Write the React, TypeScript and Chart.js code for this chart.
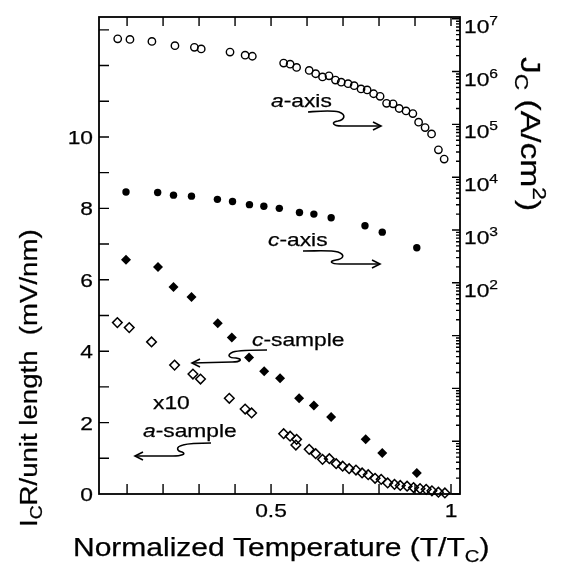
import React, { useEffect, useRef } from 'react';
import { Chart, registerables } from 'chart.js';

Chart.register(...registerables);

// ---- data ----
// a-axis Jc (open circles, right log axis)
const aAxisT = [0.074, 0.108, 0.169, 0.233, 0.287, 0.306, 0.386, 0.428, 0.448, 0.535, 0.553, 0.571, 0.606, 0.624, 0.643, 0.661, 0.679, 0.695, 0.714, 0.731, 0.75, 0.767, 0.785, 0.803, 0.821, 0.839, 0.856, 0.875, 0.894, 0.91, 0.928, 0.946, 0.965, 0.981];
const aAxisJc = [4.17e6, 4.07e6, 3.72e6, 3.09e6, 2.88e6, 2.69e6, 2.34e6, 2.04e6, 1.95e6, 1.45e6, 1.38e6, 1.2e6, 1.05e6, 9.1e5, 7.9e5, 8.3e5, 6.9e5, 6.3e5, 5.9e5, 5.4e5, 4.7e5, 4.5e5, 3.8e5, 3.4e5, 2.5e5, 2.45e5, 2.0e5, 1.8e5, 1.6e5, 1.1e5, 8.7e4, 6.6e4, 3.3e4, 2.2e4];
// c-axis Jc (filled circles, right log axis)
const cAxisT = [0.097, 0.185, 0.229, 0.279, 0.351, 0.393, 0.44, 0.48, 0.523, 0.579, 0.619, 0.667, 0.761, 0.809, 0.905];
const cAxisJc = [5.25e3, 5.13e3, 4.57e3, 4.37e3, 3.8e3, 3.47e3, 3.02e3, 2.82e3, 2.57e3, 2.14e3, 2.0e3, 1.7e3, 1.2e3, 9.1e2, 4.6e2];
// c-sample IcR (filled diamonds, left axis)
const cSampleT = [0.097, 0.186, 0.229, 0.279, 0.352, 0.391, 0.439, 0.481, 0.525, 0.578, 0.619, 0.667, 0.763, 0.809, 0.905];
const cSampleV = [6.56, 6.36, 5.8, 5.52, 4.78, 4.38, 3.82, 3.44, 3.24, 2.68, 2.48, 2.16, 1.53, 1.15, 0.59];
// a-sample IcR x10 (open diamonds, left axis)
const aSampleT = [0.073, 0.106, 0.168, 0.232, 0.283, 0.304, 0.384, 0.428, 0.446, 0.535, 0.553, 0.571, 0.569, 0.606, 0.624, 0.643, 0.662, 0.681, 0.699, 0.717, 0.736, 0.753, 0.77, 0.789, 0.806, 0.824, 0.843, 0.859, 0.878, 0.896, 0.914, 0.931, 0.947, 0.965, 0.983];
const aSampleV = [4.8, 4.66, 4.26, 3.61, 3.36, 3.22, 2.68, 2.38, 2.27, 1.69, 1.62, 1.53, 1.37, 1.25, 1.13, 0.97, 0.99, 0.85, 0.78, 0.71, 0.67, 0.59, 0.54, 0.44, 0.41, 0.31, 0.27, 0.24, 0.22, 0.18, 0.15, 0.13, 0.09, 0.05, 0.03];

// ---- ticks ----
const xTickValues = [0.1, 0.2, 0.3, 0.4, 0.5, 0.6, 0.7, 0.8, 0.9, 1.0];
const xLabelValues = [0.5, 1];
const xLabelTexts = ['0.5', '1'];
const yTickValues = [1, 2, 3, 4, 5, 6, 7, 8, 9, 10, 11, 12, 13];
const yLabelValues = [0, 2, 4, 6, 8, 10];
const jcLabelExponents = [2, 3, 4, 5, 6, 7];

const FONT = '"Liberation Sans", Arial, Helvetica, sans-serif';
const SX = 1.2;

type Part = { t: string; k?: 'sub' | 'sup' | 'it' };

function partFont(p: Part, size: number) {
  if (p.k === 'sub' || p.k === 'sup') return `${Math.round(size * 0.68)}px ${FONT}`;
  if (p.k === 'it') return `italic ${size}px ${FONT}`;
  return `${size}px ${FONT}`;
}

function drawRich(ctx: CanvasRenderingContext2D, parts: Part[], x: number, y: number, size: number, rot = 0, align: 'left' | 'center' | 'right' = 'left') {
  ctx.save();
  let total = 0;
  const widths = parts.map((p) => {
    ctx.font = partFont(p, size);
    const w = ctx.measureText(p.t).width;
    total += w;
    return w;
  });
  ctx.translate(x, y);
  ctx.rotate(rot);
  ctx.scale(SX, 1);
  let cx = align === 'left' ? 0 : align === 'center' ? -total / 2 : -total;
  ctx.textBaseline = 'alphabetic';
  ctx.textAlign = 'left';
  ctx.lineWidth = 0.25;
  ctx.strokeStyle = '#000';
  parts.forEach((p, i) => {
    ctx.font = partFont(p, size);
    let dy = 0;
    if (p.k === 'sub') dy = size * 0.22;
    if (p.k === 'sup') dy = -size * 0.42;
    ctx.fillText(p.t, cx, dy);
    ctx.strokeText(p.t, cx, dy);
    cx += widths[i];
  });
  ctx.restore();
}

function arrowHead(ctx: CanvasRenderingContext2D, x: number, y: number, dir: number) {
  ctx.beginPath();
  ctx.moveTo(x - dir * 8, y - 4);
  ctx.lineTo(x, y);
  ctx.lineTo(x - dir * 8, y + 4);
  ctx.stroke();
}

const decorPlugin = {
  id: 'decor',
  afterDraw(chart: any) {
    const ctx: CanvasRenderingContext2D = chart.ctx;
    const { left, right, top, bottom } = chart.chartArea;
    const xs = chart.scales.x;
    const ys = chart.scales.y;
    const js = chart.scales.y2;
    ctx.save();
    ctx.strokeStyle = '#000';
    ctx.fillStyle = '#000';
    ctx.lineWidth = 1.8;
    ctx.strokeRect(left, top, right - left, bottom - top);

    ctx.lineWidth = 1.4;
    ctx.beginPath();
    xTickValues.forEach((v) => {
      const p = xs.getPixelForValue(v);
      ctx.moveTo(p, bottom);
      ctx.lineTo(p, bottom - 10);
      ctx.moveTo(p, top);
      ctx.lineTo(p, top + 9);
    });
    yTickValues.forEach((v) => {
      const p = ys.getPixelForValue(v);
      ctx.moveTo(left, p);
      ctx.lineTo(left + 10, p);
    });
    for (let e = -2; e <= 7; e++) {
      for (let k = 1; k <= 9; k++) {
        const v = k * Math.pow(10, e);
        if (v > js.max * 1.0001) break;
        const p = js.getPixelForValue(v);
        ctx.moveTo(right, p);
        ctx.lineTo(right - (k === 1 ? 8 : 4), p);
      }
    }
    ctx.stroke();

    // tick labels
    yLabelValues.forEach((v) => {
      const p = ys.getPixelForValue(v);
      drawRich(ctx, [{ t: String(v) }], 93, p + 7, 19, 0, 'right');
    });
    xLabelValues.forEach((v, i) => {
      const p = xs.getPixelForValue(v);
      drawRich(ctx, [{ t: xLabelTexts[i] }], p, bottom + 23, 19, 0, 'center');
    });
    jcLabelExponents.forEach((e) => {
      const p = js.getPixelForValue(Math.pow(10, e));
      drawRich(ctx, [{ t: '10' }, { t: String(e), k: 'sup' }], right + 4, p + 14, 19, 0, 'left');
    });

    // axis titles
    drawRich(ctx, [{ t: 'Normalized Temperature (T/T' }, { t: 'C', k: 'sub' }, { t: ')' }], 73, 556, 25, 0, 'left');
    drawRich(ctx, [{ t: 'I' }, { t: 'C', k: 'sub' }, { t: 'R/unit length  (mV/nm)' }], 37, 527, 23, -Math.PI / 2, 'left');
    drawRich(ctx, [{ t: 'J' }, { t: 'C', k: 'sub' }, { t: ' (A/cm' }, { t: '2', k: 'sup' }, { t: ')' }], 521, 57, 28, Math.PI / 2, 'left');

    // annotations
    drawRich(ctx, [{ t: 'a', k: 'it' }, { t: '-axis' }], 271, 107, 19);
    drawRich(ctx, [{ t: 'c', k: 'it' }, { t: '-axis' }], 268, 246, 19);
    drawRich(ctx, [{ t: 'c', k: 'it' }, { t: '-sample' }], 252, 346, 19);
    drawRich(ctx, [{ t: 'x10' }], 153, 409, 19);
    drawRich(ctx, [{ t: 'a', k: 'it' }, { t: '-sample' }], 143, 436.5, 19);

    // squiggly arrows
    ctx.lineWidth = 1.6;
    ctx.beginPath();
    ctx.moveTo(308, 112);
    ctx.bezierCurveTo(322, 111, 331, 110, 339, 112);
    ctx.bezierCurveTo(347, 115, 344, 120, 338, 121);
    ctx.bezierCurveTo(331, 122, 332, 126, 342, 126);
    ctx.lineTo(381, 126);
    ctx.stroke();
    arrowHead(ctx, 381, 126, 1);

    ctx.beginPath();
    ctx.moveTo(303, 251);
    ctx.bezierCurveTo(318, 251, 331, 250, 338, 252);
    ctx.bezierCurveTo(346, 255, 343, 259, 336, 260);
    ctx.bezierCurveTo(329, 261, 330, 264, 340, 264);
    ctx.lineTo(380, 264);
    ctx.stroke();
    arrowHead(ctx, 380, 264, 1);

    ctx.beginPath();
    ctx.moveTo(267, 350);
    ctx.bezierCurveTo(255, 350, 240, 350, 233, 352);
    ctx.bezierCurveTo(226, 355, 229, 358, 236, 358);
    ctx.bezierCurveTo(243, 359, 241, 362, 232, 362);
    ctx.lineTo(192, 363);
    ctx.stroke();
    arrowHead(ctx, 192, 363, -1);

    ctx.beginPath();
    ctx.moveTo(211, 443);
    ctx.bezierCurveTo(200, 443, 190, 443, 183, 445);
    ctx.bezierCurveTo(175, 447, 177, 451, 182, 452);
    ctx.bezierCurveTo(187, 454, 181, 456, 173, 456);
    ctx.lineTo(135, 456);
    ctx.stroke();
    arrowHead(ctx, 135, 456, -1);

    ctx.restore();
  },
};

function pts(xs: number[], ys: number[]) {
  return xs.map((x, i) => ({ x, y: ys[i] }));
}

export default function App() {
  const ref = useRef<HTMLCanvasElement>(null);
  useEffect(() => {
    if (!ref.current) return;
    const hidden = { display: false };
    const chart = new Chart(ref.current, {
      type: 'scatter',
      data: {
        datasets: [
          {
            label: 'a-axis',
            data: pts(aAxisT, aAxisJc),
            yAxisID: 'y2',
            pointStyle: 'circle',
            pointRadius: 3.7,
            borderWidth: 1.4,
            borderColor: '#000',
            backgroundColor: 'rgba(0,0,0,0)',
            clip: false,
          },
          {
            label: 'c-axis',
            data: pts(cAxisT, cAxisJc),
            yAxisID: 'y2',
            pointStyle: 'circle',
            pointRadius: 3.7,
            borderWidth: 0,
            borderColor: '#000',
            backgroundColor: '#000',
            clip: false,
          },
          {
            label: 'c-sample',
            data: pts(cSampleT, cSampleV),
            yAxisID: 'y',
            pointStyle: 'rectRot',
            pointRadius: 5,
            borderWidth: 0,
            borderColor: '#000',
            backgroundColor: '#000',
            clip: false,
          },
          {
            label: 'a-sample x10',
            data: pts(aSampleT, aSampleV),
            yAxisID: 'y',
            pointStyle: 'rectRot',
            pointRadius: 4.8,
            borderWidth: 1.5,
            borderColor: '#000',
            backgroundColor: 'rgba(0,0,0,0)',
            clip: false,
          },
        ],
      } as any,
      options: {
        animation: false,
        responsive: false,
        devicePixelRatio: 1,
        layout: { padding: { top: 17, left: 0, right: 0, bottom: 0 } },
        plugins: { legend: hidden, tooltip: { enabled: false }, title: hidden },
        events: [],
        scales: {
          x: {
            type: 'linear',
            position: 'bottom',
            min: 0.022,
            max: 1.025,
            ticks: { display: false },
            grid: { display: false },
            border: { display: false },
            afterFit: (s: any) => { s.height = 73; },
          },
          y: {
            type: 'linear',
            position: 'left',
            min: 0,
            max: 13.36,
            ticks: { display: false },
            grid: { display: false },
            border: { display: false },
            afterFit: (s: any) => { s.width = 99; },
          },
          y2: {
            type: 'logarithmic',
            position: 'right',
            min: 0.01,
            max: 1.08e7,
            ticks: { display: false },
            grid: { display: false },
            border: { display: false },
            afterFit: (s: any) => { s.width = 105; },
          },
        },
      } as any,
      plugins: [decorPlugin],
    });
    return () => chart.destroy();
  }, []);
  return (
    <div style={{ position: 'absolute', left: 0, top: 0, width: 565, height: 567, background: '#fff' }}>
      <canvas ref={ref} width={565} height={567} style={{ display: 'block', width: 565, height: 567 }} />
    </div>
  );
}
